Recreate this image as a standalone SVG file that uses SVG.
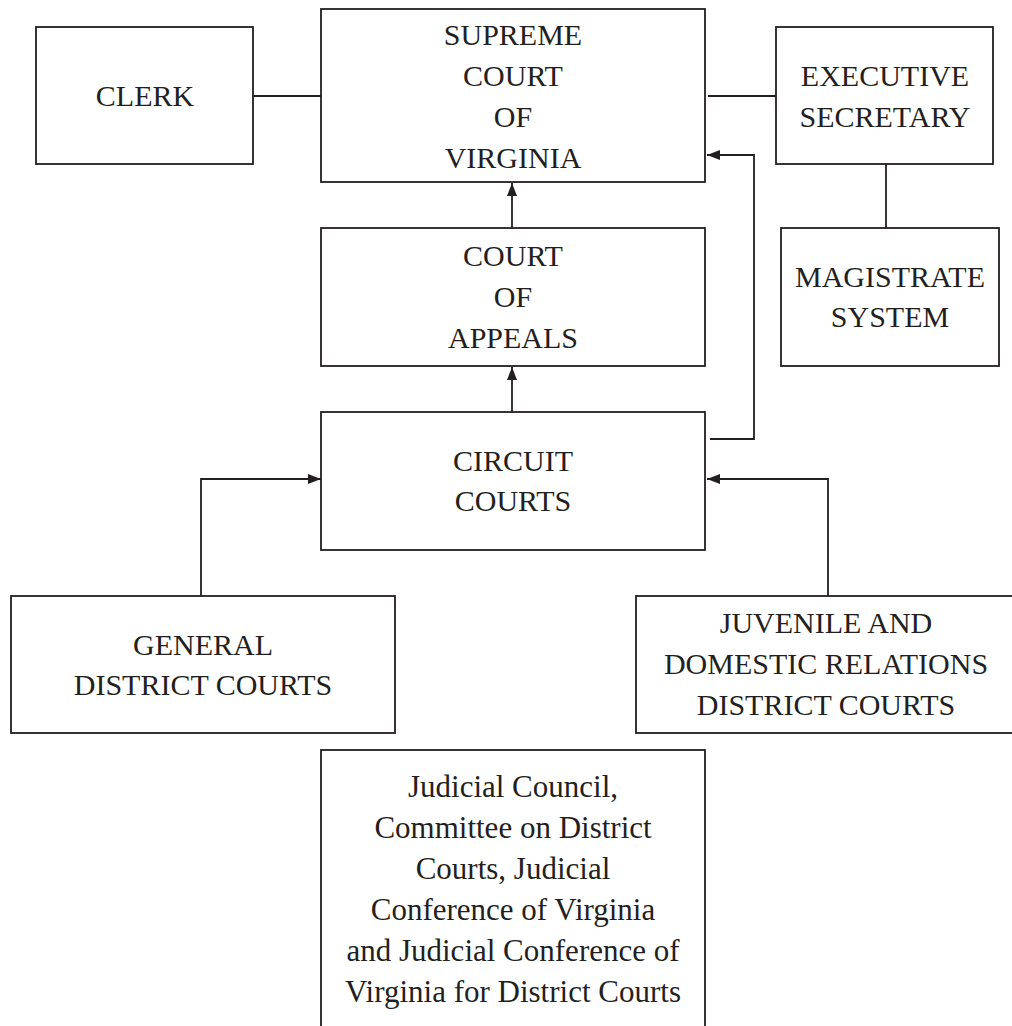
<svg xmlns="http://www.w3.org/2000/svg" width="1012" height="1026" viewBox="0 0 1012 1026">
<style>
.box{fill:#fff;stroke:#231f20;stroke-width:1.8}
.ln{fill:none;stroke:#231f20;stroke-width:1.8}
text{font-family:"Liberation Serif","Times New Roman",serif;font-size:30px;fill:#231f20;text-anchor:middle}
.lc{font-size:31px}
</style>
<defs>
<marker id="ah" viewBox="0 0 13 10" refX="13" refY="5" markerWidth="13" markerHeight="10" markerUnits="userSpaceOnUse" orient="auto">
<path d="M0,0 L13,5 L0,10 Z" fill="#231f20"/>
</marker>
</defs>
<rect width="1012" height="1026" fill="#fff"/>
<g id="connectors">
<line class="ln" x1="253" y1="96" x2="321" y2="96"/>
<line class="ln" x1="708" y1="96" x2="776" y2="96"/>
<line class="ln" x1="886" y1="164" x2="886" y2="228"/>
<line class="ln" x1="512" y1="228" x2="512" y2="183" marker-end="url(#ah)"/>
<line class="ln" x1="512" y1="412" x2="512" y2="367" marker-end="url(#ah)"/>
<polyline class="ln" points="710,439 754,439 754,155 707,155" marker-end="url(#ah)"/>
<polyline class="ln" points="201,596 201,479 321,479" marker-end="url(#ah)"/>
<polyline class="ln" points="828,596 828,479 707,479" marker-end="url(#ah)"/>
</g>
<g id="clerk"><rect class="box" x="36" y="27" width="217" height="137"/><text x="145" y="106">CLERK</text></g>
<g id="supreme"><rect class="box" x="321" y="9" width="384" height="173"/>
<text x="513" y="45">SUPREME</text><text x="513" y="86">COURT</text><text x="513" y="127">OF</text><text x="513" y="168">VIRGINIA</text></g>
<g id="executive"><rect class="box" x="776" y="27" width="217" height="137"/>
<text x="885" y="86">EXECUTIVE</text><text x="885" y="127">SECRETARY</text></g>
<g id="magistrate"><rect class="box" x="781" y="228" width="218" height="138"/>
<text x="890" y="287">MAGISTRATE</text><text x="890" y="327">SYSTEM</text></g>
<g id="appeals"><rect class="box" x="321" y="228" width="384" height="138"/>
<text x="513" y="266">COURT</text><text x="513" y="307">OF</text><text x="513" y="348">APPEALS</text></g>
<g id="circuit"><rect class="box" x="321" y="412" width="384" height="138"/>
<text x="513" y="471">CIRCUIT</text><text x="513" y="511">COURTS</text></g>
<g id="general"><rect class="box" x="11" y="596" width="384" height="137"/>
<text x="203" y="655">GENERAL</text><text x="203" y="695">DISTRICT COURTS</text></g>
<g id="juvenile"><rect class="box" x="636" y="596" width="390" height="137"/>
<text x="826" y="633">JUVENILE AND</text><text x="826" y="674">DOMESTIC RELATIONS</text><text x="826" y="715">DISTRICT COURTS</text></g>
<g id="judicial"><rect class="box" x="321" y="750" width="384" height="300"/>
<text class="lc" x="513" y="797">Judicial Council,</text><text class="lc" x="513" y="838">Committee on District</text><text class="lc" x="513" y="879">Courts, Judicial</text><text class="lc" x="513" y="920">Conference of Virginia</text><text class="lc" x="513" y="961">and Judicial Conference of</text><text class="lc" x="513" y="1002">Virginia for District Courts</text></g>
</svg>
